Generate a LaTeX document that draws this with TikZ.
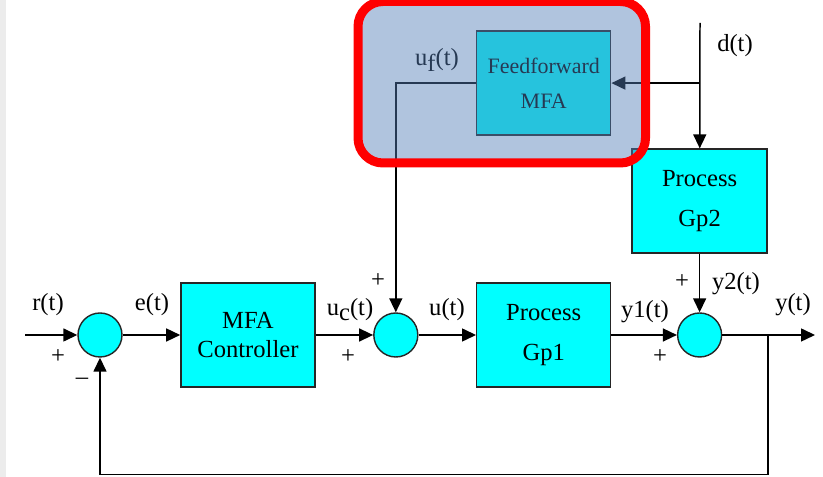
\documentclass[tikz,border=0pt]{standalone}
\usepackage{fontspec}
\setmainfont{Liberation Serif}
\newfontfamily\diagfont{Liberation Serif}
\usetikzlibrary{arrows.meta,positioning,calc}
\definecolor{boxcyan}{RGB}{0,255,255}
\definecolor{hlblue}{RGB}{83,126,183}
\definecolor{hlred}{RGB}{255,0,0}
\definecolor{edgegray}{RGB}{236,236,236}
\tikzset{
  blk/.style={rectangle,draw=black!85,line width=0.8pt,fill=boxcyan,minimum width=2.68cm,minimum height=2.08cm,align=center,font=\diagfont\fontsize{14}{17}\selectfont},
  sumc/.style={circle,draw=black!85,line width=0.8pt,fill=boxcyan,minimum size=0.88cm,inner sep=0pt},
  arr/.style={-{Triangle[length=0.28cm,width=0.26cm]},line width=0.85pt},
  lbl/.style={font=\diagfont\fontsize{14}{16}\selectfont,inner sep=0pt},
}
\begin{document}
\begin{tikzpicture}
  \useasboundingbox (0,0) rectangle (16.46,9.54);
  \fill[edgegray] (0,0) rectangle (0.12,9.54);
  % blocks and summing junctions
  \node[sumc] (s1) at (2.0,2.84) {};
  \node[blk,right=1.15cm of s1] (mfa) {MFA\\Controller};
  \node[sumc,right=1.15cm of mfa] (s2) {};
  \node[blk,right=1.15cm of s2] (gp1) {Process\\[6pt]Gp1};
  \node[sumc,right=1.31cm of gp1] (s3) {};
  \node[blk,above=1.17cm of s3,minimum width=2.7cm] (gp2) {Process\\[6pt]Gp2};
  \node[blk,above=2.93cm of gp1,font=\diagfont\fontsize{12.5}{20}\selectfont] (ff) {Feedforward\\MFA};
  % free ends and taps
  \coordinate (rin) at (0.5,2.84);
  \coordinate (yout) at (16.3,2.84);
  \coordinate (tap) at (15.36,2.84);
  \coordinate (fb) at (15.36,0.05);
  \coordinate (dtop) at (14.0,9.08);
  \coordinate (dtap) at (dtop |- ff);
  \coordinate (ufc) at (s2 |- ff);
  % connectors
  \draw[arr] (rin) -- (s1);
  \draw[arr] (s1) -- (mfa);
  \draw[arr] (mfa) -- (s2);
  \draw[arr] (s2) -- (gp1);
  \draw[arr] (gp1) -- (s3);
  \draw[arr] (s3) -- (yout);
  \draw[arr] (gp2) -- (s3);
  \draw[arr] (dtop) -- (gp2);
  \draw[arr] (dtap) -- (ff);
  \draw[arr] (ff.west) -- (ufc) -- (s2);
  \draw[arr] (tap) -- (fb) -| (s1);
  % signal labels
  \node[lbl] (lr) at (0.96,3.44) {r(t)};
  \node[lbl] (le) at (3.04,3.44) {e(t)};
  \node[lbl] (luc) at (7.0,3.34) {u\raisebox{-0.45ex}{c}(t)};
  \node[lbl] (lu) at (8.94,3.34) {u(t)};
  \node[lbl] (ly1) at (12.9,3.3) {y1(t)};
  \node[lbl] (ly2) at (14.72,3.86) {y2(t)};
  \node[lbl] (ly) at (15.86,3.44) {y(t)};
  \node[lbl] (luf) at (8.74,8.34) {u\raisebox{-0.5ex}{f}(t)};
  \node[lbl] (ld) at (14.7,8.62) {d(t)};
  % signs
  \node[lbl] (p1) at (1.16,2.4) {+};
  \node[lbl] (m1) at (1.64,1.92) {–};
  \node[lbl] (p2) at (6.96,2.4) {+};
  \node[lbl] (p3) at (7.56,3.92) {+};
  \node[lbl] (p4) at (13.2,2.4) {+};
  \node[lbl] (p5) at (13.64,3.9) {+};
  % highlight
  \draw[hlred,line width=0.18cm,fill=hlblue,fill opacity=0.46,rounded corners=0.5cm] (7.16,6.28) rectangle (12.91,9.51);
\end{tikzpicture}
\end{document}
